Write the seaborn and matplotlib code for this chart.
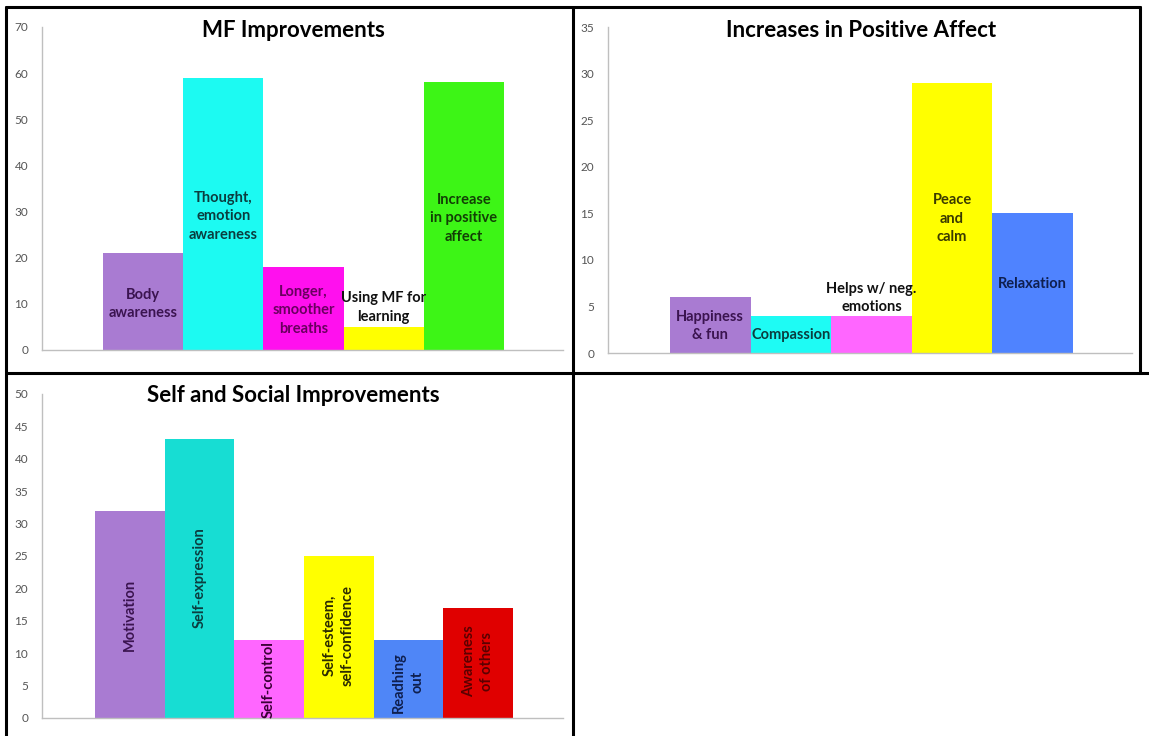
import matplotlib
matplotlib.use("Agg")
import matplotlib.pyplot as plt
import seaborn as sns
from matplotlib.lines import Line2D

sns.set_style("white")
plt.rcParams["font.family"] = ["Lato", "DejaVu Sans"]

# --- data ---
mf_labels = ["Body\nawareness", "Thought,\nemotion\nawareness", "Longer,\nsmoother\nbreaths",
             "Using MF for\nlearning", "Increase\nin positive\naffect"]
mf_values = [21, 59, 18, 5, 58]

pa_labels = ["Happiness\n& fun", "Compassion", "Helps w/ neg.\nemotions", "Peace\nand\ncalm", "Relaxation"]
pa_values = [6, 4, 4, 29, 15]

ss_labels = ["Motivation", "Self-expression", "Self-control", "Self-esteem,\nself-confidence",
             "Readhing\nout", "Awareness\nof others"]
ss_values = [32, 43, 12, 25, 12, 17]

# --- styling / layout ---
mf_colors = ["#A97BD2", "#1CFAF2", "#FF10EE", "#FFFF00", "#3DF516"]
pa_colors = ["#A97BD2", "#1EFBF4", "#FF66FF", "#FFFF00", "#4F83FF"]
ss_colors = ["#A97BD2", "#17DDD3", "#FF66FF", "#FFFF00", "#4F86F7", "#E00000"]

mf_text = ["#3B1450", "#0B3D3F", "#6A0060", "#111111", "#123F05"]
pa_text = ["#3B1450", "#0B3D3F", "#111111", "#3A3A00", "#0F1F4F"]
ss_text = ["#3B1450", "#0B3D3F", "#3A0035", "#2A2A00", "#0F1F4F", "#5A0000"]

# label heights in data units
mf_label_y = [10, 29, 8.6, 9.2, 28.5]
pa_label_y = [2.9, 1.9, 5.9, 14.4, 7.4]
ss_label_y = [15.9, 21.6, 5.9, 12.8, 5.5, 8.7]

W, H = 1149, 736
fig = plt.figure(figsize=(W / 100, H / 100), dpi=100)


def make_ax(left, right, y0, ytop):
    return fig.add_axes([left / W, (H - y0) / H, (right - left) / W, (y0 - ytop) / H])


def draw(ax, labels, values, colors, tcolors, label_y, ymax, ystep, title,
         bar_left_px, bar_right_px, ax_left_px, ax_right_px, title_x, title_y, rotate=False):
    n = len(values)
    sns.barplot(x=list(range(n)), y=values, hue=list(range(n)), palette=colors,
                width=1.0, saturation=1, legend=False, ax=ax, linewidth=0)
    unit = (bar_right_px - bar_left_px) / n
    ax.set_xlim(-0.5 - (bar_left_px - ax_left_px) / unit,
                n - 0.5 + (ax_right_px - bar_right_px) / unit)
    ax.set_ylim(0, ymax)
    ax.set_yticks(range(0, ymax + 1, ystep))
    ax.set_xticks([ax.get_xlim()[1]])
    ax.set_xticklabels([""])
    ax.tick_params(axis="x", direction="inout", length=6, color="#BFBFBF", width=1)
    ax.tick_params(axis="y", direction="out", length=4, color="#BFBFBF", width=1,
                   labelsize=8.5, labelcolor="#555555", pad=6)
    ax.set_xlabel("")
    ax.set_ylabel("")
    for s in ["top", "right"]:
        ax.spines[s].set_visible(False)
    for s in ["left", "bottom"]:
        ax.spines[s].set_color("#BFBFBF")
        ax.spines[s].set_linewidth(1)
    ax.set_facecolor("none")
    for i, (lab, ly, tc) in enumerate(zip(labels, label_y, tcolors)):
        ax.text(i, ly, lab, ha="center", va="center", fontsize=10.5, fontweight="bold",
                color=tc, linespacing=1.4, rotation=90 if rotate else 0, clip_on=False)
    ax.text(title_x, title_y, title, transform=ax.transAxes, ha="center", va="center",
            fontsize=16, fontweight="bold", color="black")


ax1 = make_ax(42, 563, 350, 27)
draw(ax1, mf_labels, mf_values, mf_colors, mf_text, mf_label_y, 70, 10, "MF Improvements",
     103, 504, 42, 563, 0.482, 0.99)

ax2 = make_ax(608, 1132, 353, 27)
draw(ax2, pa_labels, pa_values, pa_colors, pa_text, pa_label_y, 35, 5, "Increases in Positive Affect",
     670, 1073, 608, 1132, 0.483, 0.99)

ax3 = make_ax(42, 563, 718, 394)
draw(ax3, ss_labels, ss_values, ss_colors, ss_text, ss_label_y, 50, 5, "Self and Social Improvements",
     95, 513, 42, 563, 0.482, 0.994, rotate=True)

# table borders
def border(x0, y0, x1, y1):
    fig.add_artist(Line2D([x0 / W, x1 / W], [(H - y0) / H, (H - y1) / H],
                          color="black", linewidth=2.2, transform=fig.transFigure))

border(6, 7, 1140, 7)
border(6, 7, 6, 736)
border(573, 7, 573, 736)
border(1140, 7, 1140, 373)
border(6, 373, 1149, 373)

fig.savefig("out.png", dpi=100, facecolor="white")
